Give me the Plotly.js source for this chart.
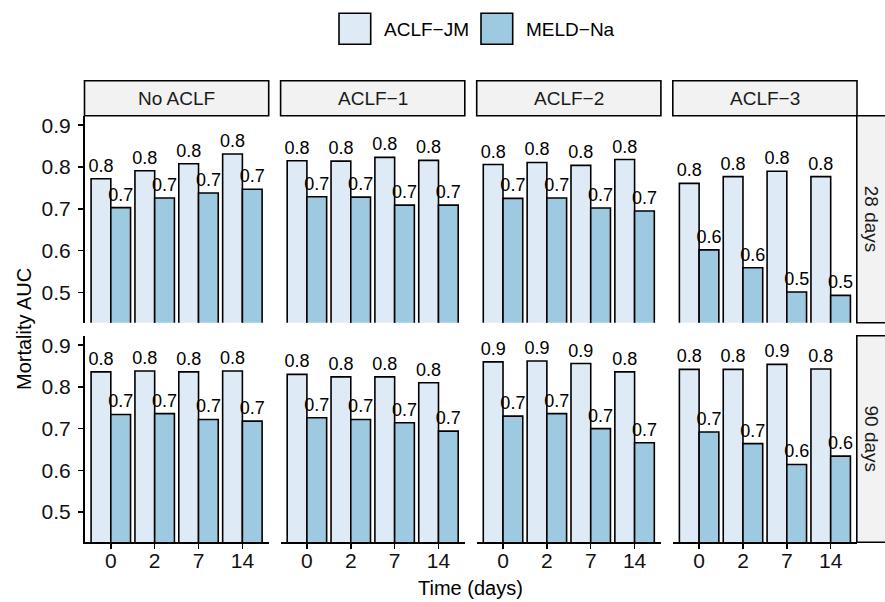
<!DOCTYPE html>
<html>
<head>
<meta charset="utf-8">
<script src="https://cdn.plot.ly/plotly-3.0.1.min.js"></script>
<style>
html,body{margin:0;padding:0;background:#fff;}
#chart{width:885px;height:602px;}
</style>
</head>
<body>
<div id="chart"></div>
<script>
// ---- data ----
const times = ["0", "2", "7", "14"];
const aclfGroups = ["No ACLF", "ACLF\u22121", "ACLF\u22122", "ACLF\u22123"];
const horizons = ["28 days", "90 days"];
const models = ["ACLF\u2212JM", "MELD\u2212Na"];

// 28-day mortality AUC
const jm28_noACLF  = [0.772, 0.791, 0.808, 0.831];
const jm28_aclf1   = [0.815, 0.814, 0.823, 0.816];
const jm28_aclf2   = [0.806, 0.811, 0.804, 0.818];
const jm28_aclf3   = [0.761, 0.777, 0.790, 0.777];
const meld28_noACLF = [0.703, 0.726, 0.738, 0.747];
const meld28_aclf1  = [0.729, 0.728, 0.709, 0.709];
const meld28_aclf2  = [0.725, 0.726, 0.702, 0.695];
const meld28_aclf3  = [0.602, 0.559, 0.501, 0.493];

// 90-day mortality AUC
const jm90_noACLF  = [0.836, 0.838, 0.836, 0.838];
const jm90_aclf1   = [0.830, 0.824, 0.824, 0.810];
const jm90_aclf2   = [0.860, 0.862, 0.856, 0.836];
const jm90_aclf3   = [0.842, 0.842, 0.854, 0.843];
const meld90_noACLF = [0.734, 0.736, 0.722, 0.718];
const meld90_aclf1  = [0.726, 0.722, 0.714, 0.694];
const meld90_aclf2  = [0.730, 0.736, 0.700, 0.666];
const meld90_aclf3  = [0.692, 0.664, 0.614, 0.634];

const yTicks = [0.5, 0.6, 0.7, 0.8, 0.9];

const jmRows = [[jm28_noACLF, jm28_aclf1, jm28_aclf2, jm28_aclf3],
                [jm90_noACLF, jm90_aclf1, jm90_aclf2, jm90_aclf3]];
const meldRows = [[meld28_noACLF, meld28_aclf1, meld28_aclf2, meld28_aclf3],
                  [meld90_noACLF, meld90_aclf1, meld90_aclf2, meld90_aclf3]];

// ---- layout geometry (pixels) ----
const W = 885, H = 602;
const FONT = "Liberation Sans, Arial, Helvetica, sans-serif";
const colX0 = 84.5, colW = 184.2, colPitch = 196.1;
const rowY = [[115.8, 322.8], [335.8, 542.3]];
const yRange = [0.4275, 0.9225];
const colJM = "#DEEBF7", colMELD = "#9ECAE1";

const px = v => v / W;
const py = v => 1 - v / H;

const traces = [];
const layout = {
  width: W, height: H,
  margin: {l: 0, r: 0, t: 0, b: 0},
  paper_bgcolor: "#fff", plot_bgcolor: "rgba(0,0,0,0)",
  barmode: "group", bargap: 0.1, bargroupgap: 0,
  showlegend: false,
  font: {family: FONT, color: "#000"},
  shapes: [], annotations: []
};

let k = 0;
for (let r = 0; r < 2; r++) {
  for (let c = 0; c < 4; c++) {
    k++;
    const xn = k === 1 ? "x" : "x" + k;
    const yn = k === 1 ? "y" : "y" + k;
    const xl = k === 1 ? "xaxis" : "xaxis" + k;
    const yl = k === 1 ? "yaxis" : "yaxis" + k;
    const x0 = colX0 + c * colPitch, x1 = x0 + colW;
    const y0 = rowY[r][0], y1 = rowY[r][1];

    const series = [jmRows[r][c], meldRows[r][c]];
    const fills = [colJM, colMELD];
    for (let s = 0; s < 2; s++) {
      traces.push({
        type: "bar", x: times, y: series[s], name: models[s],
        xaxis: xn, yaxis: yn,
        marker: {color: fills[s], line: {color: "#000", width: 1.6}},
        texttemplate: "%{y:.1f}", textposition: "outside",
        constraintext: "none", cliponaxis: true,
        textfont: {family: FONT, size: 18, color: "#000"},
        hoverinfo: "skip"
      });
    }

    const bottom = r === 1, left = c === 0;
    layout[xl] = {
      domain: [px(x0), px(x1)], anchor: yn,
      type: "category", categoryorder: "array", categoryarray: times,
      range: [-0.6, 3.6], fixedrange: true,
      showgrid: false, zeroline: false,
      showline: bottom, linecolor: "#000", linewidth: 1.6,
      ticks: bottom ? "outside" : "", ticklen: 5, tickwidth: 1.5, tickcolor: "#000",
      showticklabels: bottom, ticklabelstandoff: -6,
      tickfont: {family: FONT, size: 21, color: "#111"}
    };
    layout[yl] = {
      domain: [py(y1), py(y0)], anchor: xn,
      range: yRange, fixedrange: true,
      tickvals: yTicks, ticktext: yTicks.map(v => v.toFixed(1)),
      showgrid: false, zeroline: false,
      showline: left, linecolor: "#000", linewidth: 1.6,
      ticks: left ? "outside" : "", ticklen: 5, tickwidth: 1.5, tickcolor: "#000",
      showticklabels: left, ticklabelstandoff: 3,
      tickfont: {family: FONT, size: 21, color: "#111"}
    };

    // top strips (column facets)
    if (r === 0) {
      layout.shapes.push({type: "rect", xref: "paper", yref: "paper",
        x0: px(x0), x1: px(x1), y0: py(115.8), y1: py(80.7),
        fillcolor: "#F2F2F2", line: {color: "#000", width: 1.6}, layer: "below"});
      layout.annotations.push({xref: "paper", yref: "paper",
        x: px((x0 + x1) / 2), y: py(98.2), text: aclfGroups[c], showarrow: false,
        xanchor: "center", yanchor: "middle",
        font: {family: FONT, size: 19, color: "#1a1a1a"}});
    }
  }
  // right strips (row facets)
  layout.shapes.push({type: "rect", xref: "paper", yref: "paper",
    x0: px(856.8), x1: px(886), y0: py(rowY[r][1]), y1: py(rowY[r][0]),
    fillcolor: "#F2F2F2", line: {color: "#000", width: 1.6}, layer: "below"});
  layout.annotations.push({xref: "paper", yref: "paper",
    x: px(871.5), y: py((rowY[r][0] + rowY[r][1]) / 2), text: horizons[r],
    showarrow: false, textangle: 90, xanchor: "center", yanchor: "middle",
    font: {family: FONT, size: 19, color: "#1a1a1a"}});
}

// axis titles
layout.annotations.push({xref: "paper", yref: "paper", x: px(24), y: py(329),
  text: "Mortality AUC", showarrow: false, textangle: -90,
  xanchor: "center", yanchor: "middle", font: {family: FONT, size: 20, color: "#000"}});
layout.annotations.push({xref: "paper", yref: "paper", x: px(470.6), y: py(588),
  text: "Time (days)", showarrow: false,
  xanchor: "center", yanchor: "middle", font: {family: FONT, size: 20, color: "#000"}});

// legend (drawn)
const legBoxes = [[339, 370.7], [481, 512.7]];
const legFills = [colJM, colMELD];
for (let i = 0; i < 2; i++) {
  layout.shapes.push({type: "rect", xref: "paper", yref: "paper",
    x0: px(legBoxes[i][0]), x1: px(legBoxes[i][1]), y0: py(44.3), y1: py(13.3),
    fillcolor: legFills[i], line: {color: "#000", width: 1.6}});
  layout.annotations.push({xref: "paper", yref: "paper",
    x: px(legBoxes[i][1] + 11), y: py(29.5), text: models[i], showarrow: false,
    xanchor: "left", yanchor: "middle", font: {family: FONT, size: 19, color: "#000"}});
}

Plotly.newPlot("chart", traces, layout, {staticPlot: true, displayModeBar: false});
</script>
</body>
</html>
